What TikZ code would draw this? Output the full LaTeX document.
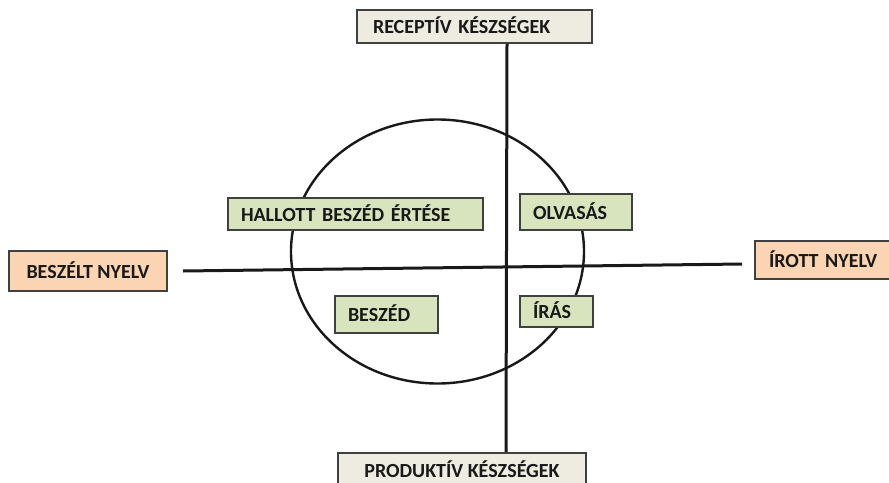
\documentclass[tikz,border=0pt]{standalone}
\usepackage{fontspec}
\setmainfont{Carlito}
\usetikzlibrary{positioning}
\definecolor{skillFill}{RGB}{238,236,225}
\definecolor{langFill}{RGB}{251,212,180}
\definecolor{areaFill}{RGB}{215,228,189}
\definecolor{boxStroke}{RGB}{64,64,64}
\colorlet{ink}{black!90}
\tikzset{
  axis/.style={draw=ink, line width=3pt},
  ring/.style={draw=ink, line width=2.4pt},
  label box/.style={
    draw=boxStroke,
    line width=1.3pt,
    inner ysep=0pt,
    text height=14pt,
    text depth=0pt,
    text=ink,
    font=\bfseries\fontsize{20}{20}\selectfont
  },
  skillbox/.style={label box, fill=skillFill},
  langbox/.style={label box, fill=langFill},
  areabox/.style={label box, fill=areaFill, inner xsep=13pt, align=left}
}

\begin{document}
\begin{tikzpicture}[x=1pt,y=1pt]
  \clip (0,0) rectangle (889,-482);
  \fill[white] (0,0) rectangle (889,-482);

  % axes and circle
  \coordinate (vtop) at (507,-44);
  \coordinate (vbot) at (506,-453);
  \coordinate (hleft) at (183,-271);
  \coordinate (hright) at (742,-264);
  \coordinate (centre) at (437.5,-251.5);

  \draw[ring] (centre) ellipse [x radius=146.5, y radius=132];
  \draw[axis] (vtop) -- (vbot);
  \draw[axis] (hleft) -- (hright);

  % skills
  \node[skillbox, inner xsep=16pt, text width=203pt, align=left, minimum height=33pt] (recep) at (474.5,-26.5) {RECEPTÍV KÉSZSÉGEK};
  \node[skillbox, minimum width=248pt, minimum height=34pt] (produ) at (462,-470) {PRODUKTÍV KÉSZSÉGEK};

  % language
  \node[langbox, minimum width=158pt, minimum height=40pt] (spoken) at (88,-271) {BESZÉLT NYELV};
  \node[langbox, inner xsep=14pt, text width=122pt, align=left, minimum height=38pt] (written) at (830,-260) {ÍROTT NYELV};

  % four areas
  \node[areabox, text width=229pt, minimum height=32pt] (listening) at (355.5,-214) {HALLOTT BESZÉD ÉRTÉSE};
  \node[areabox, text width=86pt, minimum height=36pt] (reading) at (576,-212) {OLVASÁS};
  \node[areabox, text width=77pt, minimum height=37pt] (speaking) at (386.5,-314.5) {BESZÉD};
  \node[areabox, text width=47pt, minimum height=31pt] (writing) at (556.5,-311.5) {ÍRÁS};
\end{tikzpicture}
\end{document}
